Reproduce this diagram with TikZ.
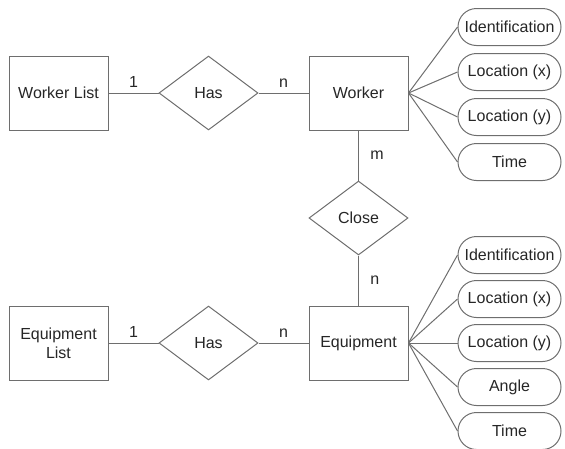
\documentclass[tikz,border=0pt]{standalone}
\usepackage{fontspec}
\setmainfont{Liberation Sans}
\usepackage{tikz}
\usetikzlibrary{
    positioning,
    shapes.geometric,
    shapes.misc
}
\definecolor{lineGray}{HTML}{6E6E6E}
\definecolor{textGray}{HTML}{262626}
\tikzstyle{entity} = [rectangle, draw=lineGray, line width=1pt, minimum width=99pt, minimum height=74pt, inner sep=2pt, align=center, text=textGray]
\tikzstyle{relation} = [diamond, draw=lineGray, line width=1pt, aspect=1.34, minimum width=99pt, minimum height=74pt, inner sep=0pt, text=textGray]
\tikzstyle{attr} = [rounded rectangle, draw=lineGray, line width=1pt, minimum width=107pt, minimum height=37pt, inner sep=2pt, text=textGray]
\tikzstyle{link} = [draw=lineGray, line width=1pt]
\tikzstyle{card} = [text=textGray]

\begin{document}
\begin{tikzpicture}[x=1pt, y=-1pt, font=\fontsize{16}{19}\selectfont]
    \tikzstyle{entity} = [rectangle, draw=lineGray, line width=1pt, minimum width=99pt, minimum height=74pt, inner sep=2pt, align=center, text=textGray]
    \tikzstyle{relation} = [diamond, draw=lineGray, line width=1pt, aspect=1.34, minimum width=99pt, minimum height=74pt, inner sep=0pt, text=textGray]
    \tikzstyle{attr} = [rounded rectangle, draw=lineGray, line width=1pt, minimum width=107pt, minimum height=37pt, inner sep=2pt, text=textGray]
    \tikzstyle{link} = [draw=lineGray, line width=1pt]
    \tikzstyle{card} = [text=textGray]

    \useasboundingbox (0,0) rectangle (565,448);

    \node[entity] (WList) at (58.5,93) {Worker List};
    \node[relation] (HasW) [right=50pt of WList] {Has};
    \node[entity] (Worker) [right=50pt of HasW] {Worker};
    \node[relation] (Close) [below=50pt of Worker] {Close};
    \node[entity] (Equip) [below=50pt of Close] {Equipment};
    \node[relation] (HasE) [left=50pt of Equip] {Has};
    \node[entity] (EList) [left=50pt of HasE] {Equipment\\List};

    \node[attr] (WId) at (509.5,27) {Identification};
    \node[attr] (WLx) [below=7pt of WId] {Location (x)};
    \node[attr] (WLy) [below=7pt of WLx] {Location (y)};
    \node[attr] (WTime) [below=7pt of WLy] {Time};

    \node[attr] (EId) at (509.5,255) {Identification};
    \node[attr] (ELx) [below=6pt of EId] {Location (x)};
    \node[attr] (ELy) [below=6pt of ELx] {Location (y)};
    \node[attr] (EAngle) [below=6pt of ELy] {Angle};
    \node[attr] (ETime) [below=6pt of EAngle] {Time};

    \draw[link] (WList) -- node[card, above=2pt]{1} (HasW);
    \draw[link] (HasW) -- node[card, above=2pt]{n} (Worker);
    \draw[link] (EList) -- node[card, above=2pt]{1} (HasE);
    \draw[link] (HasE) -- node[card, above=2pt]{n} (Equip);
    \draw[link] (Worker) -- node[card, right=8pt]{m} (Close);
    \draw[link] (Close) -- node[card, right=8pt]{n} (Equip);

    \foreach \A in {WId, WLx, WLy, WTime}{
    \draw[link] (Worker.east) -- (\A.west);
    }

    \foreach \A in {EId, ELx, ELy, EAngle, ETime}{
    \draw[link] (Equip.east) -- (\A.west);
    }
\end{tikzpicture}
\end{document}
